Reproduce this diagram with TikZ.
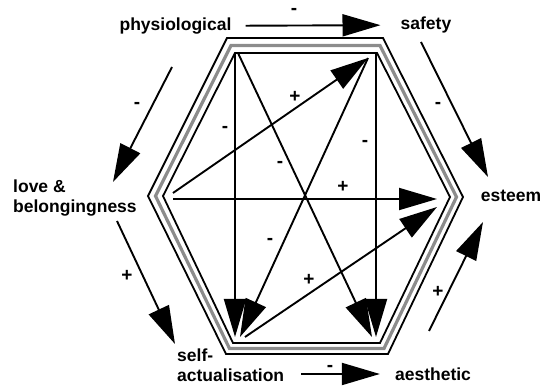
\documentclass[tikz,border=0pt]{standalone}
\usepackage{fontspec}
\setmainfont{Liberation Sans}
\usetikzlibrary{arrows.meta}
\tikzset{
  need label/.style={font=\fontsize{17.5}{19.5}\selectfont\bfseries,inner sep=0pt},
  need sign/.style={font=\fontsize{19}{20}\selectfont\bfseries,inner sep=0pt},
  need arrow/.style={line width=1.9pt,-{Triangle[length=38pt,width=22pt]}},
  hex line/.style={line width=1.8pt,line join=miter},
  hex band/.style={draw=black!45,line width=3.2pt,line join=miter}
}
\begin{document}
\begin{tikzpicture}[x=1pt,y=-1pt]
  \useasboundingbox (0,0) rectangle (542,387);
  % frame
  \draw[hex line] (227,38)--(383,38)--(463,197)--(388,354)--(226,354)--(148,196)--cycle;
  \draw[hex band] (231,45.5)--(380,45.5)--(456.5,197)--(384,348.5)--(229.5,348.5)--(155.5,196)--cycle;
  \draw[hex line] (235,53)--(377,53)--(450,197)--(380,343)--(233,343)--(163,196)--cycle;
  % needs
  \node[need label] (physio) at (175.5,26) {physiological};
  \node[need label] (safety) at (426,25) {safety};
  \node[need label] (esteem) at (511,196) {esteem};
  \node[need label] (aesthetic) at (433,374) {aesthetic};
  \node[need label,align=left,anchor=north west] (selfact) at (177,349) {self-\\actualisation};
  \node[need label,align=left,anchor=north west] (love) at (13,180) {love \&\\belongingness};
  % outer ring
  \coordinate (se a) at (421,42);  \coordinate (se b) at (488,177);
  \coordinate (ae a) at (429,331); \coordinate (ae b) at (483,222);
  \coordinate (ls a) at (117,221); \coordinate (ls b) at (175,344);
  \coordinate (pl a) at (172,67);  \coordinate (pl b) at (113,182);
  \draw[need arrow,shorten <=14pt,shorten >=20pt] (physio) -- (safety);
  \draw[need arrow] (se a) -- (se b);
  \draw[need arrow] (ae a) -- (ae b);
  \draw[need arrow,shorten <=17pt,shorten >=15pt] (selfact.east |- aesthetic) -- (aesthetic.west);
  \draw[need arrow] (ls a) -- (ls b);
  \draw[need arrow] (pl a) -- (pl b);
  \node[need sign] (ps) at (294,11.5) {-};
  \node[need sign] (se) at (438,105) {-};
  \node[need sign] (ae) at (438,292) {+};
  \node[need sign] (sa) at (330,368) {-};
  \node[need sign] (ls) at (127,276) {+};
  \node[need sign] (pl) at (137,105) {-};
  % inner links
  \coordinate (tl) at (235,53);  \coordinate (tl d) at (238,53);
  \coordinate (tr) at (376,53);  \coordinate (tr d) at (368,58);
  \coordinate (l h) at (173,199); \coordinate (l d) at (173,193);
  \coordinate (r h) at (437,199); \coordinate (r d) at (437,207);
  \coordinate (bl) at (235,337); \coordinate (bl d) at (240,337); \coordinate (bl o) at (245,337);
  \coordinate (br) at (376,337); \coordinate (br d) at (372,337);
  \draw[need arrow] (tl) -- (bl);
  \draw[need arrow] (tr) -- (br);
  \draw[need arrow] (tl d) -- (br d);
  \draw[need arrow] (tr d) -- (bl d);
  \draw[need arrow] (l h) -- (r h);
  \draw[need arrow] (l d) -- (tr d);
  \draw[need arrow] (bl o) -- (r d);
  \node[need sign] (i1) at (225,129) {-};
  \node[need sign] (i2) at (295,97) {+};
  \node[need sign] (i3) at (280,164) {-};
  \node[need sign] (i4) at (365,143) {-};
  \node[need sign] (i5) at (343,187) {+};
  \node[need sign] (i6) at (270,241) {-};
  \node[need sign] (i7) at (309,280) {+};
\end{tikzpicture}
\end{document}
